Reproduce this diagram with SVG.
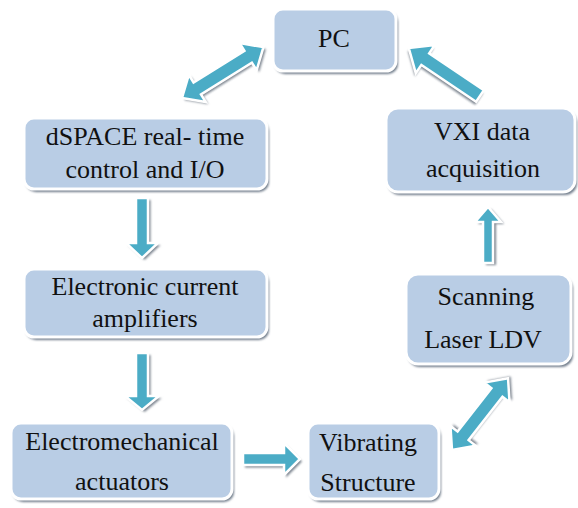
<svg xmlns="http://www.w3.org/2000/svg" width="578" height="508" viewBox="0 0 578 508">
  <defs>
    <filter id="soft" x="-10%" y="-10%" width="130%" height="130%">
      <feGaussianBlur stdDeviation="0.8"/>
    </filter>
  </defs>
  <style>
    .box { fill: #b9cde5; stroke: #ffffff; stroke-width: 3; }
    .shadow { fill: #6f7b8a; filter: url(#soft); }
    .label { font-family: "Liberation Serif", "Times New Roman", serif; font-size: 26px; fill: #111111; text-anchor: middle; }
    .arrow { fill: #4bacc6; stroke: #ffffff; stroke-width: 2.5; stroke-linejoin: miter; }
    .ashadow { fill: #7d8590; filter: url(#soft); }
  </style>
  <rect width="578" height="508" fill="#ffffff"/>

  <!-- connectors -->
  <g id="connectors">
    <!-- dSPACE -> amplifiers -->
    <g transform="translate(142,198) rotate(90)">
      <polygon class="ashadow" transform="translate(2,-2.5)" points="0,-6 45,-6 45,-16 60,0 45,16 45,6 0,6"/>
      <polygon class="arrow" points="0,-6 45,-6 45,-16 60,0 45,16 45,6 0,6"/>
    </g>
    <!-- amplifiers -> actuators -->
    <g transform="translate(142,353) rotate(90)">
      <polygon class="ashadow" transform="translate(2,-2.5)" points="0,-6 43,-6 43,-17 57,0 43,17 43,6 0,6"/>
      <polygon class="arrow" points="0,-6 43,-6 43,-17 57,0 43,17 43,6 0,6"/>
    </g>
    <!-- actuators -> structure -->
    <g transform="translate(243,459)">
      <polygon class="ashadow" transform="translate(2,2.5)" points="0,-6 41,-6 41,-16 57,0 41,16 41,6 0,6"/>
      <polygon class="arrow" points="0,-6 41,-6 41,-16 57,0 41,16 41,6 0,6"/>
    </g>
    <!-- structure <-> LDV -->
    <g transform="translate(452,450) rotate(-52)">
      <polygon class="ashadow" transform="translate(3,1)" points="0,0 18,-16 18,-7 73,-7 73,-16 91,0 73,16 73,7 18,7 18,16"/>
      <polygon class="arrow" points="0,0 18,-16 18,-7 73,-7 73,-16 91,0 73,16 73,7 18,7 18,16"/>
    </g>
    <!-- LDV -> VXI -->
    <g transform="translate(488,263) rotate(-90)">
      <polygon class="ashadow" transform="translate(-2,3)" points="0,-5 41,-5 41,-13 56,0 41,13 41,5 0,5"/>
      <polygon class="arrow" points="0,-5 41,-5 41,-13 56,0 41,13 41,5 0,5"/>
    </g>
    <!-- VXI -> PC -->
    <g transform="translate(480,96) rotate(-146)">
      <polygon class="ashadow" transform="translate(-1,-3)" points="0,-7 66,-7 66,-17 86,0 66,17 66,7 0,7"/>
      <polygon class="arrow" points="0,-7 66,-7 66,-17 86,0 66,17 66,7 0,7"/>
    </g>
    <!-- PC <-> dSPACE -->
    <g transform="translate(182,98) rotate(-32)">
      <polygon class="ashadow" transform="translate(1,3)" points="0,0 18,-16 18,-7 78,-7 78,-16 96,0 78,16 78,7 18,7 18,16"/>
      <polygon class="arrow" points="0,0 18,-16 18,-7 78,-7 78,-16 96,0 78,16 78,7 18,7 18,16"/>
    </g>
  </g>

  <g id="pc">
    <rect class="shadow" x="275" y="12" width="123" height="62" rx="10"/>
    <rect class="box" x="273" y="9" width="123" height="62" rx="10"/>
    <text class="label" x="334" y="47">PC</text>
  </g>

  <g id="dspace">
    <rect class="shadow" x="26" y="121" width="243" height="71" rx="10"/>
    <rect class="box" x="24" y="118" width="243" height="71" rx="10"/>
    <text class="label" x="145" y="145">dSPACE real- time</text>
    <text class="label" x="145" y="178">control and I/O</text>
  </g>

  <g id="amplifiers">
    <rect class="shadow" x="26" y="272" width="243" height="68" rx="10"/>
    <rect class="box" x="24" y="269" width="243" height="68" rx="10"/>
    <text class="label" x="145" y="295">Electronic current</text>
    <text class="label" x="145" y="327">amplifiers</text>
  </g>

  <g id="actuators">
    <rect class="shadow" x="13" y="426" width="221" height="76" rx="10"/>
    <rect class="box" x="11" y="423" width="221" height="76" rx="10"/>
    <text class="label" x="122" y="450">Electromechanical</text>
    <text class="label" x="122" y="490">actuators</text>
  </g>

  <g id="structure">
    <rect class="shadow" x="310" y="426" width="131" height="76" rx="10"/>
    <rect class="box" x="308" y="423" width="131" height="76" rx="10"/>
    <text class="label" x="368" y="451">Vibrating</text>
    <text class="label" x="368" y="491">Structure</text>
  </g>

  <g id="vxi">
    <rect class="shadow" x="388" y="111" width="189" height="84" rx="12"/>
    <rect class="box" x="386" y="108" width="189" height="84" rx="12"/>
    <text class="label" x="482" y="140">VXI data</text>
    <text class="label" x="483" y="177">acquisition</text>
  </g>

  <g id="ldv">
    <rect class="shadow" x="408" y="277" width="165" height="90" rx="12"/>
    <rect class="box" x="406" y="274" width="165" height="90" rx="12"/>
    <text class="label" x="486" y="305">Scanning</text>
    <text class="label" x="483" y="348">Laser LDV</text>
  </g>
</svg>
